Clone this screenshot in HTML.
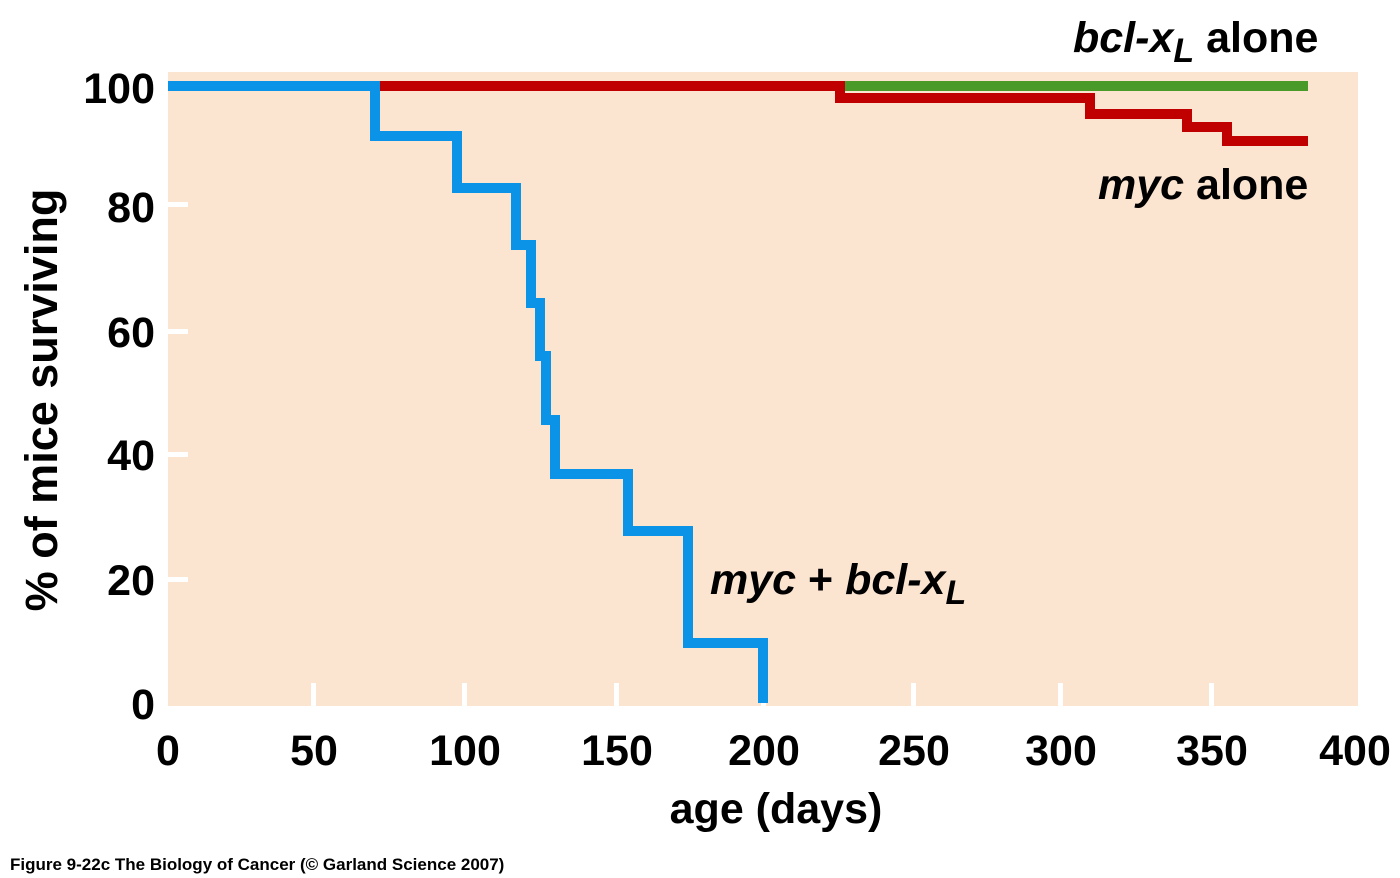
<!DOCTYPE html>
<html><head><meta charset="utf-8"><style>
html,body{margin:0;padding:0;background:#fff;}
svg{display:block;}
text{font-family:"Liberation Sans",sans-serif;font-weight:bold;fill:#000;}
</style></head><body>
<svg width="1400" height="878" viewBox="0 0 1400 878" xmlns="http://www.w3.org/2000/svg">
<rect x="168" y="72" width="1190" height="634" fill="#fbe4d0"/>
<g fill="#fff">
<rect x="311" y="683" width="5" height="23"/>
<rect x="462" y="683" width="5" height="23"/>
<rect x="614" y="683" width="5" height="23"/>
<rect x="761" y="683" width="5" height="23"/>
<rect x="911" y="683" width="5" height="23"/>
<rect x="1058" y="683" width="5" height="23"/>
<rect x="1209" y="683" width="5" height="23"/>
<rect x="168" y="202" width="20" height="5"/>
<rect x="168" y="329" width="20" height="5"/>
<rect x="168" y="452" width="20" height="5"/>
<rect x="168" y="577" width="20" height="5"/>
</g>
<path d="M840 86 H1308" stroke="#4a9a2a" stroke-width="10" fill="none"/>
<path d="M375 86 H840 V98 H1090 V114 H1187 V127 H1227 V141 H1308" stroke="#c00000" stroke-width="10" fill="none"/>
<path d="M168 86 H375 V136 H457 V188 H516 V245 H531 V303 H540 V356 H546 V420 H555 V474 H628 V531 H688 V643 H763 V703" stroke="#0b93e8" stroke-width="10" fill="none"/>
<g font-size="43" text-anchor="end">
<text x="155" y="103">100</text>
<text x="155" y="222">80</text>
<text x="155" y="347">60</text>
<text x="155" y="470">40</text>
<text x="155" y="595">20</text>
<text x="155" y="719">0</text>
</g>
<g font-size="43" text-anchor="middle">
<text x="168" y="765">0</text>
<text x="314" y="765">50</text>
<text x="465" y="765">100</text>
<text x="617" y="765">150</text>
<text x="764" y="765">200</text>
<text x="914" y="765">250</text>
<text x="1061" y="765">300</text>
<text x="1212" y="765">350</text>
<text x="1355" y="765">400</text>
</g>
<text x="776" y="823" font-size="43" text-anchor="middle">age (days)</text>
<text transform="translate(57,400) rotate(-90)" font-size="45" text-anchor="middle">% of mice surviving</text>
<text x="1073" y="52" font-size="43"><tspan font-style="italic">bcl-x</tspan><tspan font-style="italic" font-size="34" dy="10">L</tspan><tspan dy="-10">  alone</tspan></text>
<text x="1098" y="199" font-size="43"><tspan font-style="italic">myc</tspan>  alone</text>
<text x="710" y="594" font-size="43"><tspan font-style="italic">myc</tspan> + <tspan font-style="italic">bcl-x</tspan><tspan font-style="italic" font-size="34" dy="10">L</tspan></text>
<text x="10" y="870" font-size="17">Figure 9-22c  The Biology of Cancer (© Garland Science 2007)</text>
</svg>
</body></html>
